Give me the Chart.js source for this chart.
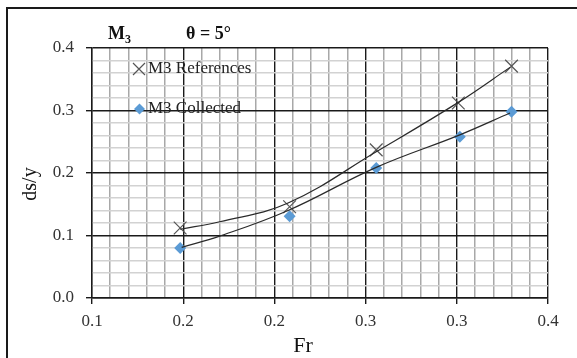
<!DOCTYPE html>
<html>
<head>
<meta charset="utf-8">
<script src="https://cdn.jsdelivr.net/npm/chart.js@4.4.1/dist/chart.umd.min.js"></script>
<style>
html, body { margin: 0; padding: 0; background: #fff; }
#wrap { width: 577px; height: 358px; position: relative; }
</style>
</head>
<body>
<div id="wrap"><canvas id="chart"></canvas></div>
<script>
const refFr = [0.158, 0.230, 0.287, 0.341, 0.376];
const refDs = [0.112, 0.146, 0.237, 0.312, 0.371];
const colFr = [0.158, 0.230, 0.287, 0.342, 0.376];
const colDs = [0.080, 0.131, 0.208, 0.258, 0.298];

// trend curves, also
const refTrendFr = [0.158, 0.184, 0.229, 0.287, 0.341, 0.375];
const refTrendDs = [0.110, 0.122, 0.152, 0.234, 0.313, 0.369];
const colTrendFr = [0.159, 0.184, 0.229, 0.287, 0.342, 0.375];
const colTrendDs = [0.081, 0.099, 0.140, 0.209, 0.261, 0.296];

const xMajor = [0.1, 0.16, 0.22, 0.28, 0.34, 0.4];
const yMajor = [0, 0.1, 0.2, 0.3, 0.4];
const minorDiv = 5;

const SERIF = '"Liberation Serif", "Times New Roman", serif';

function withMinor(major) {
    const out = [];
    for (let i = 0; i < major.length; i++) {
	out.push({value: major[i], major: true});
	if (i < major.length - 1) {
	    const step = (major[i + 1] - major[i]) / minorDiv;
	    for (let k = 1; k < minorDiv; k++) {
		out.push({value: major[i] + step * k, major: false});
	    }
	}
    }
    return out;
}

function pts(xs, ys) {
    return xs.map((x, i) => ({x: x, y: ys[i]}));
}

const isMajor = (c) => c.tick && c.tick.major;

const decor = {
    id: 'decor',
    afterDraw(chart) {
	const ctx = chart.ctx;
	const ds = chart.data.datasets;
	ctx.save();

	// outer frame (cropped at right and bottom)
	ctx.strokeStyle = '#1a1a1a';
	ctx.lineWidth = 2;
	ctx.beginPath();
	ctx.moveTo(7, 358);
	ctx.lineTo(7, 8);
	ctx.lineTo(577, 8);
	ctx.stroke();

	// title
	ctx.fillStyle = '#111';
	ctx.textBaseline = 'alphabetic';
	ctx.textAlign = 'left';
	ctx.font = 'bold 18px ' + SERIF;
	ctx.fillText('M', 108, 39);
	const mw = ctx.measureText('M').width;
	ctx.font = 'bold 12px ' + SERIF;
	ctx.fillText('3', 108 + mw, 43);
	ctx.font = 'bold 18px ' + SERIF;
	ctx.fillText('θ = 5°', 186, 39);

	// legend
	ctx.font = '17px ' + SERIF;
	ctx.fillStyle = '#222';
	ctx.textBaseline = 'middle';
	ctx.fillText(ds[2].label, 148, 69);
	ctx.fillText(ds[3].label, 148, 109);
	ctx.strokeStyle = ds[2].pointBorderColor;
	ctx.lineWidth = 1.2;
	ctx.beginPath();
	ctx.moveTo(133, 63); ctx.lineTo(145, 75);
	ctx.moveTo(145, 63); ctx.lineTo(133, 75);
	ctx.stroke();
	ctx.fillStyle = ds[3].pointBackgroundColor;
	ctx.beginPath();
	ctx.moveTo(134, 109); ctx.lineTo(139.5, 103.5);
	ctx.lineTo(145, 109); ctx.lineTo(139.5, 114.5);
	ctx.closePath();
	ctx.fill();

	// axis titles
	ctx.fillStyle = '#111';
	ctx.font = '22px ' + SERIF;
	ctx.textAlign = 'center';
	ctx.textBaseline = 'alphabetic';
	ctx.fillText('Fr', 303, 352);
	ctx.font = '20px ' + SERIF;
	ctx.translate(31, 184);
	ctx.rotate(-Math.PI / 2);
	ctx.textBaseline = 'middle';
	ctx.fillText('ds/y', 0, 0);

	ctx.restore();
    }
};

const trendStyle = {
    showLine: true,
    tension: 0.4,
    borderColor: '#2a2a2a',
    borderWidth: 1.2,
    pointRadius: 0,
};

new Chart(document.getElementById('chart'), {
    type: 'scatter',
    data: {
	datasets: [{
	    ...trendStyle,
	    label: 'Trend References',
	    data: pts(refTrendFr, refTrendDs),
	}, {
	    ...trendStyle,
	    label: 'Trend Collected',
	    data: pts(colTrendFr, colTrendDs),
	}, {
	    label: 'M3 References',
	    data: pts(refFr, refDs),
	    pointStyle: 'crossRot',
	    pointRadius: 9,
	    pointBorderColor: '#555',
	    pointBorderWidth: 1.2,
	    pointBackgroundColor: 'transparent',
	}, {
	    label: 'M3 Collected',
	    data: pts(colFr, colDs),
	    pointStyle: 'rectRot',
	    pointRadius: 6,
	    pointBorderWidth: 0,
	    pointBorderColor: '#5b9bd5',
	    pointBackgroundColor: '#5b9bd5',
	}]
    },
    options: {
	responsive: true,
	maintainAspectRatio: false,
	animation: false,
	layout: {
	    padding: {top: 48, right: 29, bottom: 0, left: 0}
	},
	plugins: {
	    legend: {display: false},
	    tooltip: {enabled: false},
	},
	scales: {
	    x: {
		type: 'linear',
		min: xMajor[0],
		max: xMajor[xMajor.length - 1],
		afterBuildTicks: (s) => { s.ticks = withMinor(xMajor); },
		afterFit: (s) => { s.height = 60; },
		border: {color: '#1a1a1a', width: 1.4},
		grid: {
		    color: (c) => isMajor(c) ? '#1a1a1a' : '#a8a8a8',
		    lineWidth: (c) => isMajor(c) ? 1.4 : 1.5,
		    tickColor: (c) => isMajor(c) ? '#1a1a1a' : 'rgba(0,0,0,0)',
		    tickLength: 6,
		},
		ticks: {
		    autoSkip: false,
		    maxRotation: 0,
		    padding: 7,
		    color: '#333',
		    font: {family: SERIF, size: 17},
		    callback: (v, i, t) => t[i].major ? v.toFixed(1) : '',
		}
	    },
	    y: {
		min: yMajor[0],
		max: yMajor[yMajor.length - 1],
		afterBuildTicks: (s) => { s.ticks = withMinor(yMajor); },
		afterFit: (s) => { s.width = 92; },
		border: {color: '#1a1a1a', width: 1.4},
		grid: {
		    color: (c) => isMajor(c) ? '#1a1a1a' : '#d2d2d2',
		    lineWidth: (c) => isMajor(c) ? 1.4 : 1.5,
		    tickColor: (c) => isMajor(c) ? '#1a1a1a' : 'rgba(0,0,0,0)',
		    tickLength: 6,
		},
		ticks: {
		    autoSkip: false,
		    padding: 12,
		    color: '#333',
		    font: {family: SERIF, size: 17},
		    callback: (v, i, t) => t[i].major ? v.toFixed(1) : '',
		}
	    }
	}
    },
    plugins: [decor]
});
</script>
</body>
</html>
